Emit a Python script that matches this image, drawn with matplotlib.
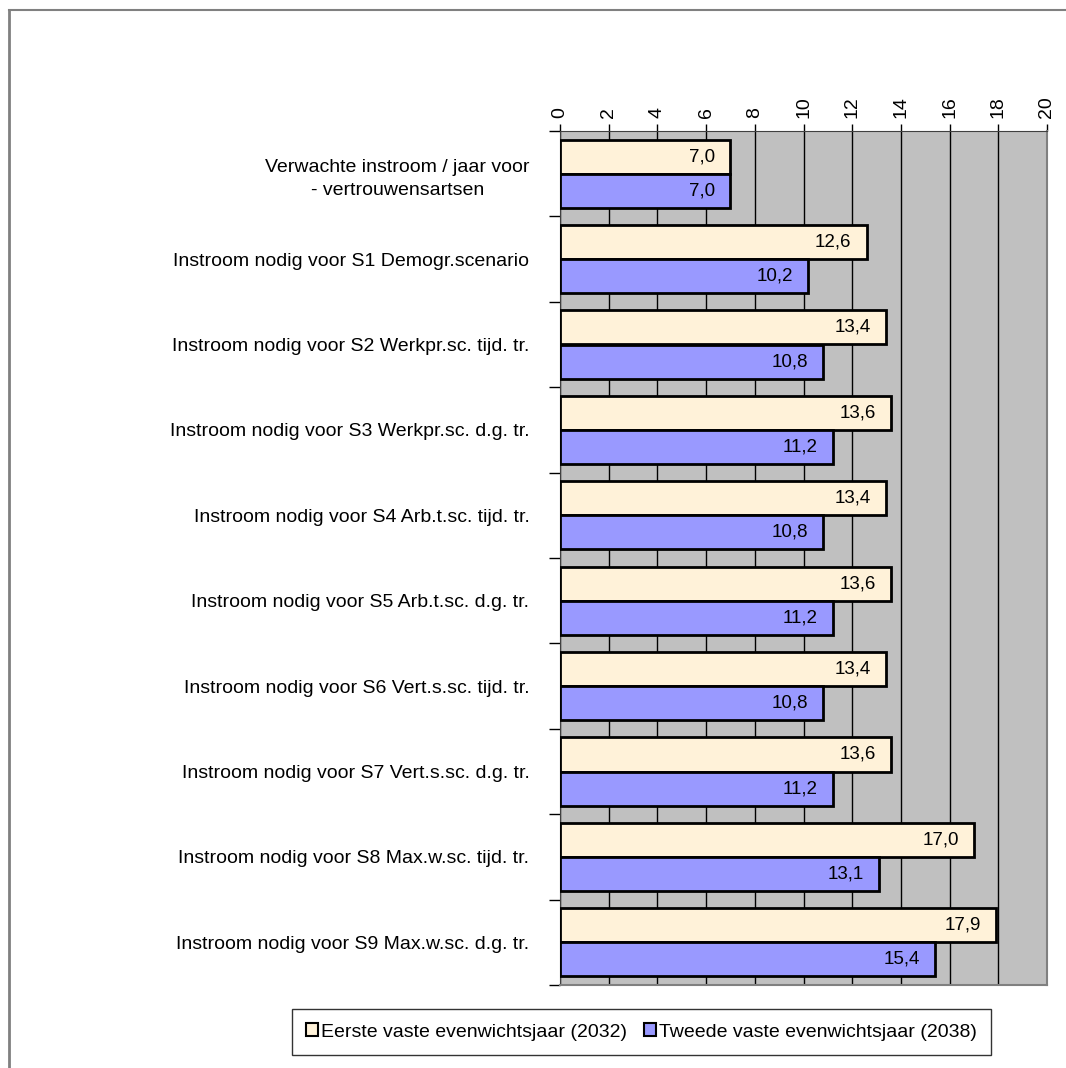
import matplotlib
matplotlib.use("Agg")
import matplotlib.pyplot as plt
import numpy as np
from matplotlib.lines import Line2D

plt.rcParams['font.family'] = ['Liberation Sans', 'DejaVu Sans']

# categorieen (van boven naar beneden)
categorieen = [
    "Verwachte instroom / jaar voor\n- vertrouwensartsen",
    "Instroom nodig voor S1 Demogr.scenario",
    "Instroom nodig voor S2 Werkpr.sc. tijd. tr.",
    "Instroom nodig voor S3 Werkpr.sc. d.g. tr.",
    "Instroom nodig voor S4 Arb.t.sc. tijd. tr.",
    "Instroom nodig voor S5 Arb.t.sc. d.g. tr.",
    "Instroom nodig voor S6 Vert.s.sc. tijd. tr.",
    "Instroom nodig voor S7 Vert.s.sc. d.g. tr.",
    "Instroom nodig voor S8 Max.w.sc. tijd. tr.",
    "Instroom nodig voor S9 Max.w.sc. d.g. tr.",
]
eerste = [7.0, 12.6, 13.4, 13.6, 13.4, 13.6, 13.4, 13.6, 17.0, 17.9]
tweede = [7.0, 10.2, 10.8, 11.2, 10.8, 11.2, 10.8, 11.2, 13.1, 15.4]
reeksnamen = ["Eerste vaste evenwichtsjaar (2032)", "Tweede vaste evenwichtsjaar (2038)"]
kleuren = ["#FFF2D9", "#9999FF"]
xticks = list(range(0, 21, 2))

fig = plt.figure(figsize=(10.66, 10.68), dpi=100)
W, H = 1066, 1068
ax = fig.add_axes([560 / W, 1 - 985 / H, (1047 - 560) / W, (985 - 131) / H])
ax.set_facecolor("#C0C0C0")

y = np.arange(len(categorieen))
h = 0.40
b1 = ax.barh(y - h / 2, eerste, height=h, color=kleuren[0], edgecolor="black", linewidth=2, zorder=3)
b2 = ax.barh(y + h / 2, tweede, height=h, color=kleuren[1], edgecolor="black", linewidth=2, zorder=3)

for bars, vals in [(b1, eerste), (b2, tweede)]:
    for bar, v in zip(bars, vals):
        ax.annotate(f"{v:.1f}".replace(".", ","),
                    (v, bar.get_y() + bar.get_height() / 2),
                    xytext=(-11, 0), textcoords="offset points",
                    ha="right", va="center", fontsize=13.5, zorder=4)

ax.set_xlim(0, 20)
ax.set_ylim(len(categorieen) - 0.5, -0.5)
ax.xaxis.tick_top()
ax.set_xticks(xticks)
ax.set_xticklabels([str(t) for t in xticks], rotation=90, fontsize=14)
ax.tick_params(axis="x", direction="out", length=5, width=1, pad=4)
ax.grid(axis="x", color="black", linewidth=1, zorder=1)

ax.set_yticks(y)
ax.set_yticklabels(categorieen, fontsize=14, multialignment="center", linespacing=1.45)
ax.tick_params(axis="y", length=0, pad=22)
ax.set_yticks(np.arange(-0.5, len(categorieen)), minor=True)
ax.tick_params(axis="y", which="minor", length=8, width=1, direction="out")

for s in ["top", "left"]:
    ax.spines[s].set_color("#404040")
for s in ["right", "bottom"]:
    ax.spines[s].set_color("#808080")
    ax.spines[s].set_linewidth(1.5)

# legenda
handles = [plt.Rectangle((0, 0), 1, 1, facecolor=c, edgecolor="black", linewidth=1.5) for c in kleuren]
leg = fig.legend(handles, reeksnamen, ncol=2, loc="center",
                 bbox_to_anchor=((298 + 985) / 2 / W, 1 - 1032 / H),
                 fontsize=14, frameon=True, fancybox=False, edgecolor="black",
                 handlelength=0.6, handleheight=0.6, handletextpad=0.15,
                 columnspacing=0.9, borderpad=0.75, borderaxespad=0)
leg.get_frame().set_linewidth(1)

# rand van de figuur
fig.add_artist(Line2D([9 / W, 9 / W], [0, 1 - 10 / H], color="#808080", linewidth=2))
fig.add_artist(Line2D([9 / W, 1], [1 - 10 / H, 1 - 10 / H], color="#808080", linewidth=1.5))

fig.savefig("out.png", dpi=100)
